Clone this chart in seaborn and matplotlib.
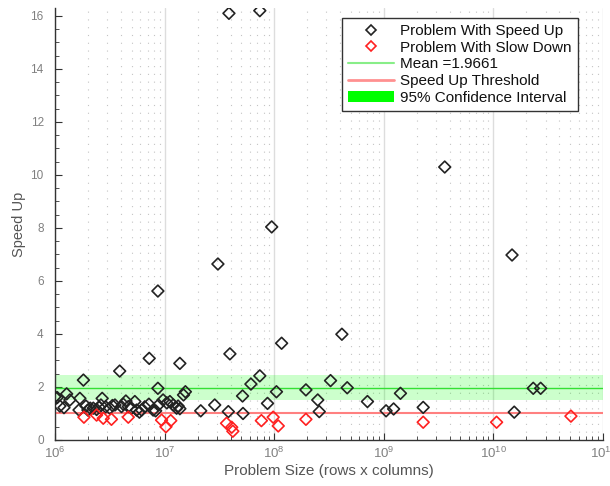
import matplotlib
matplotlib.use("Agg")
import matplotlib.pyplot as plt
import matplotlib.ticker as mticker
from matplotlib.lines import Line2D
from matplotlib.patches import Patch
import seaborn as sns
import pandas as pd

# problem size (rows x columns) and measured speed up
up_size = [1.00e6, 1.05e6, 1.11e6, 1.21e6, 1.28e6, 1.37e6, 1.66e6, 1.69e6, 1.82e6, 1.92e6,
           2.00e6, 2.10e6, 2.24e6, 2.40e6, 2.54e6, 2.63e6, 2.70e6, 2.90e6, 3.17e6, 3.35e6,
           3.53e6, 3.90e6, 4.05e6, 4.20e6, 4.44e6, 4.67e6, 5.00e6, 5.36e6, 5.56e6, 5.90e6,
           6.18e6, 6.60e6, 7.20e6, 7.25e6, 7.88e6, 8.30e6, 8.70e6, 8.80e6, 8.70e6, 9.70e6,
           1.05e7, 1.12e7, 1.20e7, 1.29e7, 1.33e7, 1.38e7, 1.38e7, 1.49e7, 1.55e7, 2.14e7,
           2.87e7, 3.07e7, 3.82e7, 3.87e7, 3.95e7, 5.15e7, 5.20e7, 6.14e7, 7.40e7, 7.40e7,
           8.70e7, 9.50e7, 1.05e8, 1.17e8, 1.95e8, 2.50e8, 2.58e8, 3.27e8, 4.15e8, 4.64e8,
           7.10e8, 1.05e9, 1.23e9, 1.42e9, 2.29e9, 3.60e9, 1.48e10, 1.55e10, 2.31e10, 2.70e10]
up_speed = [1.63, 1.60, 1.28, 1.22, 1.74, 1.51, 1.13, 1.57, 2.26, 1.28,
            1.13, 1.20, 1.20, 1.15, 1.23, 1.32, 1.57, 1.25, 1.20, 1.30,
            1.32, 2.60, 1.26, 1.35, 1.47, 1.26, 1.20, 1.45, 1.13, 1.05,
            1.13, 1.25, 1.35, 3.08, 1.13, 1.10, 1.95, 1.32, 5.62, 1.51,
            1.40, 1.45, 1.32, 1.20, 1.28, 2.89, 1.18, 1.70, 1.82, 1.10,
            1.32, 6.64, 1.07, 16.1, 3.25, 1.66, 1.00, 2.11, 2.42, 16.2,
            1.38, 8.04, 1.82, 3.65, 1.89, 1.51, 1.07, 2.24, 3.99, 1.97,
            1.45, 1.10, 1.17, 1.76, 1.23, 10.3, 6.98, 1.05, 1.95, 1.95]

down_size = [1.84e6, 2.40e6, 2.76e6, 3.28e6, 4.67e6, 9.40e6, 1.03e7, 1.14e7, 3.68e7,
             4.10e7, 4.20e7, 7.65e7, 9.80e7, 1.09e8, 1.95e8, 2.29e9, 1.07e10, 5.10e10]
down_speed = [0.86, 0.94, 0.82, 0.78, 0.86, 0.75, 0.50, 0.73, 0.63,
              0.48, 0.33, 0.73, 0.86, 0.53, 0.78, 0.67, 0.67, 0.90]

mean_speed = 1.9661
ci_low, ci_high = 1.49, 2.44
threshold = 1.0

sns.set_style("white")
plt.rcParams["font.family"] = ["Liberation Sans", "DejaVu Sans"]
plt.rcParams["mathtext.fontset"] = "custom"
plt.rcParams["mathtext.rm"] = "Liberation Sans"
plt.rcParams["mathtext.it"] = "Liberation Sans"

fig = plt.figure(figsize=(6.1, 4.86), dpi=100)
ax = fig.add_axes([0.090, 0.0947, 0.8985, 0.8888])

ax.axhspan(ci_low, ci_high, color="#00ff00", alpha=0.2, lw=0, zorder=1)
ax.axhline(mean_speed, color="#33e033", lw=1.0, zorder=2)
ax.axhline(threshold, color="#ff8080", lw=1.5, zorder=2)

up = pd.DataFrame({"size": up_size, "speed": up_speed})
down = pd.DataFrame({"size": down_size, "speed": down_speed})
sns.scatterplot(data=up, x="size", y="speed", ax=ax, marker="D", s=36,
                facecolors="none", edgecolors="#222222", linewidths=1.2, zorder=3)
sns.scatterplot(data=down, x="size", y="speed", ax=ax, marker="D", s=36,
                facecolors="none", edgecolors="#ff2020", linewidths=1.2, zorder=3)

ax.set_xscale("log")
ax.set_xlim(1e6, 1e11)
ax.set_ylim(0, 16.3)
ax.xaxis.set_major_locator(mticker.LogLocator(base=10, numticks=10))
ax.xaxis.set_minor_locator(mticker.LogLocator(base=10, subs=range(2, 10), numticks=100))
ax.xaxis.set_minor_formatter(mticker.NullFormatter())
ax.yaxis.set_major_locator(mticker.MultipleLocator(2))
ax.yaxis.set_minor_locator(mticker.MultipleLocator(0.5))

ax.grid(True, axis="x", which="major", color="#dddddd", lw=1.0, ls="-")
ax.grid(True, axis="x", which="minor", color="#c4c4c4", lw=0.8, ls=(0, (1, 6)))
ax.set_axisbelow(True)

for side in ["top", "right"]:
    ax.spines[side].set_visible(False)
for side in ["left", "bottom"]:
    ax.spines[side].set_color("#333333")
    ax.spines[side].set_linewidth(1.0)

ax.tick_params(which="both", direction="in", colors="#333333", labelcolor="#808080",
               labelsize=8.5, bottom=True, left=True)
ax.tick_params(which="major", length=5)
ax.tick_params(which="minor", length=3)
ax.tick_params(axis="x", pad=4, labelsize=9.5)
ax.tick_params(axis="y", pad=8)

ax.set_xlabel("Problem Size (rows x columns)", fontsize=11, color="#555555", labelpad=2)
ax.set_ylabel("Speed Up", fontsize=10.5, color="#555555", labelpad=3)

handles = [
    Line2D([], [], ls="none", marker="D", ms=5, mfc="none", mec="#222222", mew=1.2),
    Line2D([], [], ls="none", marker="D", ms=5, mfc="none", mec="#ff2020", mew=1.2),
    Line2D([], [], color="#88ee88", lw=1.5),
    Line2D([], [], color="#ff9090", lw=2),
    Patch(facecolor="#00ff00", edgecolor="none"),
]
labels = ["Problem With Speed Up", "Problem With Slow Down", "Mean =1.9661",
          "Speed Up Threshold", "95% Confidence Interval"]
leg = ax.legend(handles, labels, loc="upper right", bbox_to_anchor=(0.968, 0.995),
                fontsize=11, frameon=True, fancybox=False, borderpad=0.4,
                labelspacing=0.18, handlelength=3.0, handletextpad=0.4,
                framealpha=1)
leg.get_frame().set_edgecolor("#333333")
leg.get_frame().set_linewidth(1.0)
for t in leg.get_texts():
    t.set_color("#111111")

fig.savefig("out.png", dpi=100)
